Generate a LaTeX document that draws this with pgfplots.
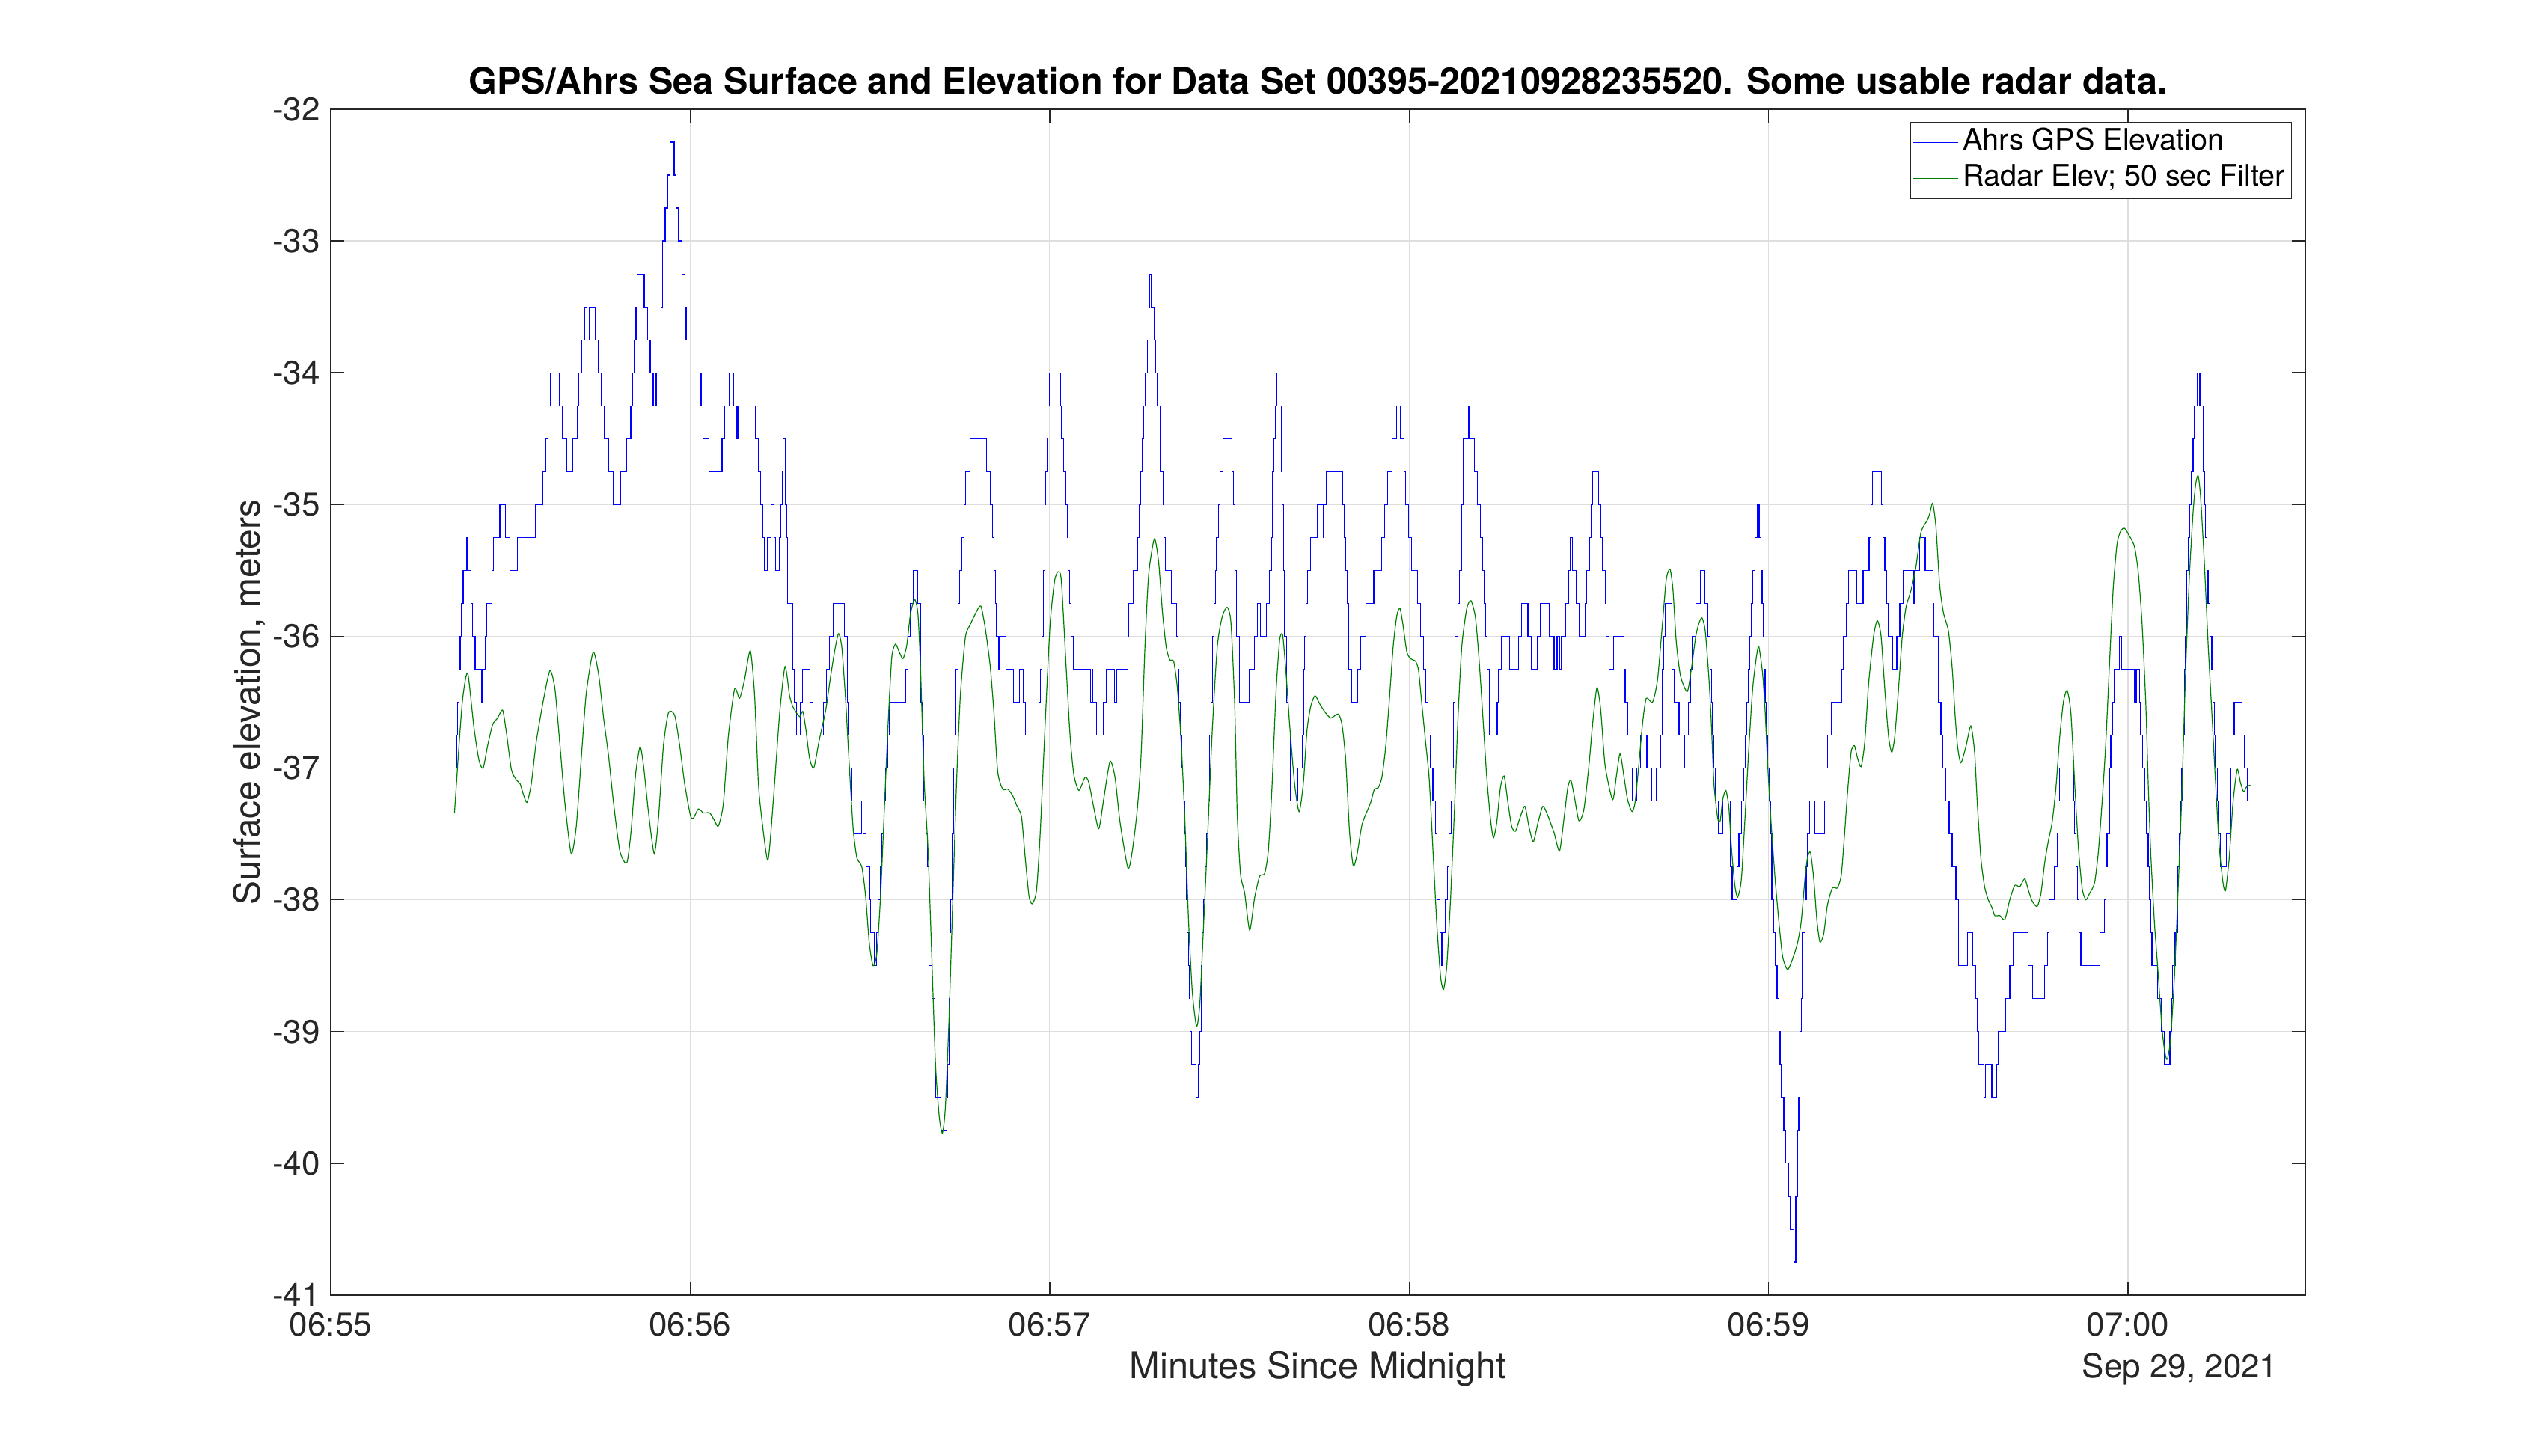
\documentclass[border=0pt]{standalone}
\usepackage{fontspec}
\setmainfont{TeX Gyre Heros}
\usepackage{pgfplots}
\pgfplotsset{compat=1.18}
\definecolor{axgray}{gray}{0.15}
\definecolor{gridgray}{gray}{0.87}
\definecolor{mgreen}{rgb}{0,0.5,0}
\begin{document}
\begin{tikzpicture}
\path[use as bounding box, fill=white] (0,0) rectangle (851pt,486.5pt);
\begin{axis}[
  at={(110.5pt,53.75pt)}, anchor=south west,
  width=659.75pt, height=396.25pt, scale only axis,
  xmin=0, xmax=329.6, ymin=-41, ymax=-32,
  xtick={0,60,120,180,240,300},
  xticklabels={06:55,06:56,06:57,06:58,06:59,07:00},
  ytick={-41,-40,-39,-38,-37,-36,-35,-34,-33,-32},
  yticklabels={-41,-40,-39,-38,-37,-36,-35,-34,-33,-32},
  xticklabel pos=lower, yticklabel pos=left,
  xtick pos=both, ytick pos=both,
  tick align=inside,
  major tick length=4.5pt,
  grid=major,
  major grid style={gridgray, line width=0.3pt},
  axis line style={axgray, line width=0.35pt},
  tick style={axgray, line width=0.35pt},
  ticklabel style={font=\fontsize{11}{13}\selectfont, text=axgray},
  xticklabel style={yshift=-2.4pt},
  /pgf/number format/assume math mode=true,
  legend style={at={(1,1)}, anchor=north east, xshift=-4.5pt, yshift=-4.25pt,
    draw=axgray, line width=0.35pt, fill=white, inner sep=0.75pt,
    font=\fontsize{9.9}{12}\selectfont,
    nodes={inner sep=1.3pt, text height=7.2pt, text depth=2.2pt},
    row sep=0pt, /tikz/every even column/.append style={column sep=0pt}},
  legend cell align=left,
  legend image code/.code={\draw[#1, line width=0.4pt] (0pt,0pt) -- (15pt,0pt);},
]
\addplot[blue, line width=0.3pt, const plot] coordinates {
(20.78,-37) (20.99,-36.75) (21.20,-36.5) (21.41,-36.25) (21.61,-36) (21.82,-35.75) (22.11,-35.5) (22.74,-35.25) (22.90,-35.5) (23.40,-35.75) (23.70,-36) (24.11,-36.25) (25.19,-36.5) (25.32,-36.25) (25.86,-36) (26.03,-35.75) (26.90,-35.5) (27.15,-35.25) (28.23,-35) (29.19,-35.25) (29.90,-35.5) (31.15,-35.25) (34.19,-35) (35.44,-34.75) (35.85,-34.5) (36.27,-34.25) (36.73,-34) (38.14,-34.25) (38.72,-34.5) (39.35,-34.75) (40.39,-34.5) (41.14,-34.25) (41.43,-34) (41.85,-33.75) (42.39,-33.5) (42.80,-33.75) (43.14,-33.5) (44.14,-33.75) (44.68,-34) (45.18,-34.25) (45.68,-34.5) (46.34,-34.75) (47.13,-35) (48.38,-34.75) (49.34,-34.5) (50.09,-34.25) (50.38,-34) (50.67,-33.75) (50.96,-33.5) (51.13,-33.25) (52.34,-33.5) (52.88,-33.75) (53.34,-34) (53.84,-34.25) (54.34,-34) (54.63,-33.75) (55.17,-33.5) (55.42,-33) (55.83,-32.75) (56.21,-32.5) (56.63,-32.25) (57.33,-32.5) (57.67,-32.75) (58.08,-33) (58.62,-33.25) (59.12,-33.5) (59.33,-33.75) (59.62,-34) (61.83,-34.25) (62.12,-34.5) (63.12,-34.75) (65.33,-34.5) (65.78,-34.25) (66.53,-34) (67.24,-34.25) (67.82,-34.5) (67.95,-34.25) (69.03,-34) (70.49,-34.25) (70.91,-34.5)
(71.38,-34.75) (71.79,-35) (72.08,-35.25) (72.33,-35.5) (72.88,-35.25) (73.54,-35) (74.04,-35.25) (74.29,-35.5) (74.92,-35.25) (75.08,-35) (75.33,-34.75) (75.54,-34.5) (75.87,-35) (76.08,-35.25) (76.29,-35.75) (77.08,-36.25) (77.33,-36.5) (77.75,-36.75) (78.33,-36.5) (78.79,-36.25) (79.95,-36.5) (80.49,-36.75) (82.24,-36.5) (82.78,-36.25) (83.28,-36) (83.82,-35.75) (85.78,-36) (86.20,-36.5) (86.36,-36.75) (86.49,-37) (87.03,-37.25) (87.36,-37.5) (88.57,-37.25) (88.86,-37.5) (89.32,-37.75) (89.94,-38) (90.07,-38.25) (90.78,-38.5) (91.11,-38.25) (91.36,-38) (91.69,-37.75) (92.03,-37.5) (92.32,-37.25) (92.65,-37) (92.94,-36.75) (93.27,-36.5) (95.98,-36.25) (96.40,-36) (96.69,-35.75) (97.23,-35.5) (98.02,-35.75) (98.48,-36.5) (98.77,-36.75) (98.98,-37.25) (99.31,-37.5) (99.60,-37.75) (99.89,-38.5) (100.35,-38.75) (100.85,-39.25) (100.98,-39.5) (101.81,-39.75) (102.81,-39.5) (103.02,-39.25) (103.18,-38.75) (103.31,-38.25) (103.47,-38) (103.68,-37.5) (103.97,-37) (104.18,-36.75) (104.39,-36.25) (104.77,-35.75) (105.02,-35.5) (105.35,-35.25) (105.72,-35) (105.93,-34.75) (106.68,-34.5) (109.51,-34.75) (110.05,-35) (110.43,-35.25) (110.72,-35.5) (110.93,-35.75) (111.09,-36) (111.47,-36.25) (111.64,-36) (112.72,-36.25) (113.97,-36.5) (115.01,-36.25) (115.55,-36.5) (115.92,-36.75) (116.71,-37) (117.71,-36.75) (118.21,-36.5) (118.42,-36.25) (118.67,-36) (118.92,-35.5) (119.17,-35) (119.38,-34.75) (119.58,-34.5) (119.75,-34.25) (119.92,-34) (121.83,-34.25) (121.96,-34.5)
(122.38,-34.75) (122.75,-35) (122.92,-35.25) (123.13,-35.5) (123.34,-35.75) (123.54,-36) (123.96,-36.25) (126.83,-36.5) (127.04,-36.25) (127.17,-36.5) (127.87,-36.75) (128.91,-36.5) (129.50,-36.25) (130.83,-36.5) (131.16,-36.25) (133.10,-36) (133.24,-35.75) (133.99,-35.5) (134.74,-35.25) (134.91,-35) (135.24,-34.75) (135.49,-34.5) (135.74,-34.25) (135.99,-34) (136.32,-33.75) (136.53,-33.5) (136.74,-33.25) (136.91,-33.5) (137.49,-33.75) (137.70,-34) (137.91,-34.25) (138.45,-34.75) (138.91,-35) (139.11,-35.25) (139.32,-35.5) (140.36,-35.75) (141.20,-36) (141.40,-36.25) (141.61,-36.5) (141.82,-36.75) (142.03,-37) (142.45,-37.25) (142.57,-37.5) (142.69,-37.75) (142.86,-38) (142.99,-38.25) (143.19,-38.5) (143.32,-38.75) (143.44,-39) (143.74,-39.25) (144.44,-39.5) (144.86,-39.25) (145.07,-39) (145.28,-38.5) (145.48,-38.25) (145.69,-38) (145.98,-37.75) (146.19,-37.5) (146.44,-37.25) (146.73,-36.75) (146.94,-36.5) (147.15,-36) (147.40,-35.75) (147.65,-35.5) (147.86,-35.25) (148.19,-35) (148.48,-34.75) (148.94,-34.5) (150.40,-34.75) (150.65,-35) (150.90,-35.5) (151.15,-36) (151.65,-36.5) (153.35,-36.25) (154.19,-36) (154.68,-35.75) (155.14,-36) (156.14,-35.75) (156.68,-35.5) (157.02,-35.25) (157.22,-34.75) (157.47,-34.5) (157.72,-34.25) (157.97,-34) (158.35,-34.25) (158.64,-34.75) (158.81,-35) (159.01,-35.5) (159.22,-36) (159.51,-36.5) (159.76,-36.75) (160.18,-37.25) (161.39,-37) (162.22,-36.75) (162.43,-36.25) (162.59,-36) (162.80,-35.75) (163.09,-35.5) (163.51,-35.25) (164.68,-35) (165.72,-35.25) (165.84,-35) (166.13,-34.75) (168.88,-35) (169.13,-35.25) (169.38,-35.5) (169.63,-35.75) (169.88,-36.25) (170.38,-36.5) (171.38,-36.25) (171.88,-36) (172.84,-35.75)
(173.59,-35.75) (174.09,-35.5) (175.42,-35.25) (175.92,-35) (176.42,-34.75) (177.17,-34.5) (177.96,-34.25) (178.59,-34.5) (179.13,-34.75) (179.42,-35) (179.92,-35.25) (180.42,-35.5) (181.38,-35.75) (181.92,-36) (182.42,-36.25) (182.83,-36.5) (183.17,-36.75) (183.58,-37) (183.96,-37.25) (184.37,-37.5) (184.66,-38) (185.12,-38.25) (185.46,-38.5) (185.62,-38.25) (186.08,-38) (186.37,-37.75) (186.66,-37.5) (186.99,-37.25) (187.20,-37) (187.37,-36.5) (187.62,-36) (188.16,-35.75) (188.45,-35.5) (188.74,-35) (189.08,-34.5) (189.87,-34.25) (190.00,-34.5) (190.87,-34.75) (191.45,-35) (191.91,-35.25) (192.20,-35.5) (192.53,-35.75) (192.82,-36) (192.99,-36.25) (193.45,-36.75) (194.70,-36.5) (194.91,-36.25) (195.41,-36) (196.82,-36.25) (198.24,-36) (198.74,-35.75) (199.82,-36) (200.36,-36.25) (201.40,-36) (201.94,-35.75) (203.40,-36) (204.19,-36.25) (204.69,-36) (205.11,-36.25) (205.36,-36) (206.15,-35.75) (206.65,-35.5) (206.90,-35.25) (207.23,-35.5) (207.89,-35.75) (208.35,-36) (209.35,-35.75) (209.64,-35.5) (210.14,-35.25) (210.39,-35) (210.64,-34.75) (211.64,-35) (211.97,-35.25) (212.31,-35.5) (212.72,-35.75) (212.93,-36) (213.35,-36.25) (214.18,-36) (215.85,-36.25) (216.06,-36.5) (216.47,-36.75) (216.89,-37) (217.30,-37.25) (217.97,-37) (218.64,-36.75) (219.68,-37) (220.51,-37.25) (221.30,-37) (221.93,-36.75) (222.22,-36.25) (222.43,-36) (222.80,-35.75) (223.84,-36.25) (224.26,-36.5)
(225.05,-36.75) (226.00,-37) (226.39,-36.75) (226.60,-36.5) (226.93,-36.25) (227.22,-36) (227.85,-35.75) (228.60,-35.5) (229.35,-35.75) (229.85,-36) (230.26,-36.25) (230.47,-36.5) (230.68,-36.75) (230.89,-37) (231.09,-37.25) (231.59,-37.5) (232.34,-37.25) (233.59,-37.75) (233.93,-38) (234.76,-37.75) (235.05,-37.5) (235.47,-37.25) (235.88,-37) (236.09,-36.75) (236.30,-36.5) (236.59,-36.25) (236.80,-36) (237.13,-35.75) (237.34,-35.5) (237.76,-35.25) (238.17,-35) (238.42,-35.25) (238.71,-35.5) (238.92,-35.75) (239.09,-36) (239.21,-36.25) (239.42,-36.5) (239.63,-36.75) (239.84,-37) (240.17,-37.25) (240.34,-37.5) (240.55,-38) (240.88,-38.25) (241.09,-38.5) (241.42,-38.75) (241.71,-39) (241.92,-39.25) (242.13,-39.5) (242.54,-39.75) (242.88,-40) (243.38,-40.25) (243.67,-40.5) (244.21,-40.75) (244.54,-40.25) (244.83,-39.75) (245.04,-39.5) (245.25,-39) (245.46,-38.75) (245.67,-38.25) (246.08,-38) (246.29,-37.75) (246.50,-37.5) (246.83,-37.25) (247.66,-37.5) (249.33,-37.25) (249.62,-37) (249.83,-36.75) (250.45,-36.5) (252.24,-36.25) (252.53,-36) (252.95,-35.75) (253.37,-35.5) (254.74,-35.75) (255.78,-35.5) (256.78,-35.25) (257.11,-35) (257.32,-34.75) (258.86,-35) (259.07,-35.25) (259.40,-35.5) (259.74,-35.75) (260.03,-36) (260.74,-36.25) (261.40,-36) (261.90,-35.75) (262.53,-35.5) (264.28,-35.75) (264.40,-35.5) (265.19,-35.25) (266.15,-35.5) (267.44,-35.75) (267.61,-36) (268.35,-36.5) (268.77,-36.75) (269.06,-37) (269.60,-37.25) (270.15,-37.5) (270.65,-37.75) (271.27,-38) (271.69,-38.5) (273.23,-38.25) (274.06,-38.5) (274.60,-38.75) (274.81,-39) (275.10,-39.25) (275.98,-39.5)
(276.18,-39.25) (277.27,-39.5) (278.06,-39.25) (278.31,-39) (279.51,-38.75) (280.26,-38.5) (280.89,-38.25) (283.34,-38.5) (284.09,-38.75) (286.09,-38.5) (286.59,-38.25) (286.84,-38) (287.76,-37.75) (288.17,-37.5) (288.30,-37.25) (288.59,-37) (289.30,-36.75) (290.34,-37) (290.88,-37.25) (291.09,-37.5) (291.30,-37.75) (291.59,-38) (291.84,-38.25) (292.13,-38.5) (295.33,-38.25) (296.08,-38) (296.29,-37.75) (296.50,-37.5) (296.92,-37) (297.12,-36.75) (297.42,-36.5) (297.75,-36.25) (298.58,-36) (298.87,-36.25) (301.08,-36.5) (301.37,-36.25) (301.91,-36.5) (302.12,-36.75) (302.41,-37) (302.74,-37.25) (303.08,-37.5) (303.37,-37.75) (303.58,-38) (303.79,-38.25) (303.99,-38.5) (304.95,-38.75) (305.58,-39) (306.08,-39.25) (306.99,-39) (307.24,-38.75) (307.45,-38.5) (307.87,-38.25) (308.28,-37.75) (308.57,-37.5) (308.78,-37.25) (308.99,-37) (309.20,-36.75) (309.41,-36.25) (309.62,-36) (309.82,-35.5) (310.03,-35.25) (310.32,-35) (310.57,-34.75) (310.86,-34.5) (311.07,-34.25) (311.57,-34) (311.99,-34.25) (312.53,-34.75) (312.74,-35) (312.94,-35.25) (313.15,-35.5) (313.36,-35.75) (313.65,-36) (313.99,-36.25) (314.19,-36.5) (314.40,-36.75) (314.61,-37) (314.90,-37.25) (315.11,-37.5) (315.44,-37.75) (316.44,-37.5) (317.19,-37) (317.52,-36.75) (317.73,-36.5) (319.02,-36.75) (319.40,-37) (319.98,-37.25) (320.44,-37.25)
};
\addlegendentry{Ahrs GPS Elevation}
\addplot[mgreen, line width=0.3pt, smooth, tension=0.4] coordinates {
(20.66,-37.34) (21.41,-36.83) (22.03,-36.47) (22.86,-36.28) (23.90,-36.69) (24.74,-36.94) (25.44,-37.00) (26.19,-36.83) (27.03,-36.67) (27.86,-36.62) (28.69,-36.56) (29.32,-36.73) (30.15,-37.01) (30.98,-37.09) (31.61,-37.12) (32.23,-37.21) (32.77,-37.26) (33.48,-37.12) (34.31,-36.80) (35.56,-36.47) (36.60,-36.26) (37.43,-36.40) (38.27,-36.83) (39.10,-37.27) (40.14,-37.65) (40.97,-37.45) (41.80,-36.94) (42.64,-36.44) (43.80,-36.12) (44.72,-36.29) (45.55,-36.62) (46.38,-36.91) (47.22,-37.27) (48.26,-37.63) (49.42,-37.72) (50.13,-37.48) (50.88,-37.05) (51.63,-36.84) (52.21,-36.98) (53.05,-37.34) (54.00,-37.65) (54.71,-37.38) (55.54,-36.83) (56.38,-36.58) (57.42,-36.60) (58.25,-36.83) (59.08,-37.12) (60.04,-37.36) (60.54,-37.38) (61.37,-37.31) (62.21,-37.34) (63.25,-37.34) (64.08,-37.40) (64.70,-37.44) (65.54,-37.27) (66.37,-36.76) (67.41,-36.40) (68.24,-36.47) (69.07,-36.33) (70.03,-36.11) (70.74,-36.44) (71.36,-37.09)
(71.79,-37.32) (72.96,-37.70) (73.87,-37.25) (74.92,-36.59) (75.83,-36.23) (76.58,-36.45) (77.20,-36.54) (78.25,-36.61) (78.79,-36.57) (79.29,-36.70) (79.91,-36.92) (80.62,-37.00) (81.58,-36.78) (82.62,-36.56) (83.45,-36.30) (84.20,-36.09) (84.78,-35.98) (85.32,-36.09) (85.95,-36.49) (86.57,-36.99) (87.20,-37.46) (87.82,-37.68) (88.65,-37.75) (89.28,-37.97) (89.90,-38.33) (90.53,-38.50) (91.15,-38.41) (91.78,-37.97) (92.40,-37.32) (93.03,-36.67) (93.65,-36.16) (94.27,-36.06) (94.90,-36.12) (95.52,-36.17) (96.15,-36.07) (96.77,-35.83) (97.48,-35.72) (98.02,-35.83) (98.44,-36.23) (99.06,-37.10) (99.69,-37.61) (100.31,-38.41) (100.94,-39.24) (101.56,-39.64) (102.10,-39.77) (102.60,-39.57) (103.22,-38.88) (103.85,-37.97) (104.47,-37.10) (105.10,-36.45) (105.93,-36.01) (106.76,-35.91) (107.60,-35.83) (108.51,-35.77) (109.26,-35.94) (110.09,-36.23) (110.72,-36.59) (111.34,-37.03) (112.17,-37.16) (113.01,-37.16) (113.84,-37.21) (114.47,-37.28) (115.30,-37.37) (115.92,-37.68) (116.55,-37.97) (117.09,-38.03) (117.80,-37.93) (118.42,-37.50) (119.25,-36.67) (120.08,-35.91) (120.83,-35.58) (121.42,-35.51) (121.96,-35.58)
(122.79,-36.26) (123.42,-36.76) (124.04,-37.05) (124.88,-37.17) (125.92,-37.07) (126.54,-37.11) (127.37,-37.30) (128.21,-37.46) (129.04,-37.23) (130.08,-36.95) (130.91,-37.07) (131.75,-37.41) (133.08,-37.76) (133.83,-37.62) (134.66,-37.30) (135.28,-36.89) (135.91,-36.08) (136.53,-35.53) (137.49,-35.26) (138.20,-35.44) (138.82,-35.81) (139.45,-36.08) (140.07,-36.18) (140.70,-36.19) (141.32,-36.39) (141.95,-36.80) (142.57,-37.39) (143.19,-38.16) (143.82,-38.70) (144.53,-38.96) (145.07,-38.79) (145.69,-38.20) (146.32,-37.57) (147.15,-36.71) (147.98,-36.08) (148.81,-35.85) (149.65,-35.78) (150.27,-35.90) (150.90,-36.53) (151.31,-37.34) (151.85,-37.80) (152.56,-37.95) (153.39,-38.23) (154.23,-37.98) (155.06,-37.82) (155.89,-37.80) (156.52,-37.62) (157.14,-37.12) (157.77,-36.44) (158.39,-36.03) (158.89,-35.99) (159.43,-36.26) (160.06,-36.67) (160.89,-37.12) (161.64,-37.33) (162.34,-37.12) (162.97,-36.71) (163.59,-36.53) (164.30,-36.45) (165.05,-36.51) (165.88,-36.57) (166.92,-36.62) (168.17,-36.59) (168.80,-36.67) (169.42,-36.94) (170.05,-37.48) (170.67,-37.74) (171.30,-37.66) (172.13,-37.43) (172.96,-37.33)
(173.59,-37.26) (174.21,-37.16) (174.84,-37.15) (175.46,-37.07) (176.09,-36.84) (176.71,-36.48) (177.34,-36.08) (177.96,-35.84) (178.50,-35.79) (179.00,-35.92) (179.63,-36.12) (180.25,-36.17) (181.08,-36.19) (181.58,-36.26) (182.12,-36.51) (182.75,-36.80) (183.37,-37.09) (183.99,-37.63) (184.62,-38.18) (185.25,-38.58) (185.75,-38.68) (186.29,-38.50) (186.91,-38.00) (187.54,-37.35) (188.16,-36.62) (188.79,-36.08) (189.62,-35.79) (190.33,-35.73) (191.08,-35.86) (191.70,-36.19) (192.33,-36.62) (192.95,-37.06) (193.57,-37.38) (194.07,-37.53) (194.61,-37.42) (195.24,-37.15) (195.86,-37.06) (196.49,-37.26) (197.11,-37.44) (197.74,-37.48) (198.49,-37.38) (199.32,-37.29) (200.03,-37.45) (200.73,-37.56) (201.48,-37.42) (202.32,-37.29) (203.15,-37.36) (204.19,-37.49) (205.11,-37.63) (205.86,-37.38) (206.48,-37.15) (206.98,-37.09) (207.52,-37.20) (208.35,-37.40) (209.19,-37.31) (210.02,-36.98) (210.64,-36.66) (211.35,-36.39) (211.97,-36.55) (212.72,-36.98) (213.97,-37.24) (214.60,-37.06) (215.22,-36.89) (215.85,-37.06) (216.47,-37.24) (217.22,-37.33) (217.72,-37.26) (218.34,-36.98) (218.97,-36.66) (219.59,-36.47) (220.63,-36.50) (221.47,-36.33) (222.30,-35.90) (222.92,-35.57) (223.55,-35.49) (224.05,-35.65) (224.59,-36.04) (225.30,-36.30)
(226.43,-36.42) (227.14,-36.24) (227.85,-36.00) (228.39,-35.90) (228.89,-35.86) (229.43,-35.96) (230.05,-36.32) (230.47,-36.68) (230.89,-37.12) (231.51,-37.38) (231.93,-37.40) (232.34,-37.24) (232.88,-37.17) (233.38,-37.30) (233.80,-37.60) (234.34,-37.88) (234.84,-37.98) (235.47,-37.84) (236.09,-37.36) (236.72,-36.84) (237.34,-36.40) (237.96,-36.16) (238.38,-36.08) (239.00,-36.28) (239.42,-36.56) (239.84,-36.96) (240.46,-37.44) (241.09,-37.84) (241.71,-38.16) (242.34,-38.43) (243.17,-38.53) (244.00,-38.45) (244.83,-38.33) (245.46,-38.16) (246.08,-37.84) (246.50,-37.68) (247.00,-37.64) (247.54,-37.84) (248.08,-38.16) (248.58,-38.32) (249.20,-38.26) (249.83,-38.04) (250.66,-37.91) (251.49,-37.91) (252.12,-37.82) (252.53,-37.60) (253.16,-37.20) (253.78,-36.88) (254.33,-36.83) (254.83,-36.92) (255.45,-36.99) (256.07,-36.80) (256.70,-36.36) (257.53,-36.00) (258.16,-35.88) (258.78,-36.00) (259.40,-36.40) (260.03,-36.76) (260.57,-36.88) (261.07,-36.76) (261.69,-36.40) (262.32,-36.00) (262.94,-35.78) (263.78,-35.65) (264.61,-35.47) (265.44,-35.21) (266.48,-35.12) (266.90,-35.07) (267.40,-34.99) (267.94,-35.17) (268.56,-35.61) (269.19,-35.82) (270.02,-35.96) (270.65,-36.24) (271.14,-36.60) (271.56,-36.84) (272.10,-36.96) (272.93,-36.84) (273.77,-36.68) (274.39,-36.88) (274.81,-37.24) (275.43,-37.68) (276.06,-37.90) (276.68,-38.00) (277.31,-38.06)
(277.77,-38.12) (278.60,-38.12) (279.43,-38.15) (280.26,-38.00) (281.10,-37.89) (281.93,-37.90) (282.76,-37.84) (283.39,-37.93) (284.01,-38.01) (284.84,-38.05) (285.47,-37.95) (286.09,-37.72) (286.72,-37.55) (287.34,-37.41) (287.97,-37.15) (288.59,-36.77) (289.21,-36.50) (289.84,-36.41) (290.46,-36.58) (291.09,-37.11) (291.71,-37.60) (292.34,-37.91) (292.96,-38.00) (293.59,-37.95) (294.42,-37.87) (295.04,-37.64) (295.67,-37.26) (296.29,-36.81) (296.92,-36.20) (297.54,-35.63) (298.17,-35.30) (298.79,-35.20) (299.41,-35.18) (300.25,-35.24) (301.08,-35.32) (301.70,-35.51) (302.33,-35.89) (302.96,-36.50) (303.37,-37.11) (303.79,-37.64) (304.41,-38.17) (305.03,-38.56) (305.66,-38.97) (306.16,-39.16) (306.57,-39.21) (307.12,-39.05) (307.74,-38.59) (308.36,-37.93) (308.99,-37.19) (309.61,-36.27) (310.24,-35.55) (310.86,-35.06) (311.28,-34.85) (311.70,-34.78) (312.11,-34.94) (312.74,-35.44) (313.36,-36.05) (313.99,-36.58) (314.61,-37.11) (315.24,-37.60) (315.86,-37.87) (316.28,-37.93) (316.90,-37.68) (317.53,-37.26) (318.23,-37.01) (318.77,-37.11) (319.31,-37.18) (319.82,-37.14) (320.44,-37.13)
};
\addlegendentry{Radar Elev; 50 sec Filter}
\end{axis}
\node[anchor=base, inner sep=0pt, font=\fontsize{12.15}{14}\selectfont\bfseries] at (440.4pt,455pt) {GPS/Ahrs Sea Surface and Elevation for Data Set 00395-20210928235520. Some usable radar data.};
\node[anchor=base, inner sep=0pt, font=\fontsize{12.2}{14}\selectfont, text=axgray] at (440.4pt,25.8pt) {Minutes Since Midnight};
\node[anchor=base east, inner sep=0pt, font=\fontsize{11}{13}\selectfont, text=axgray] at (761.3pt,26.1pt) {Sep 29, 2021};
\node[anchor=base, inner sep=0pt, rotate=90, font=\fontsize{12}{14}\selectfont, text=axgray] at (86.8pt,251.9pt) {Surface elevation, meters};
\end{tikzpicture}
\end{document}
